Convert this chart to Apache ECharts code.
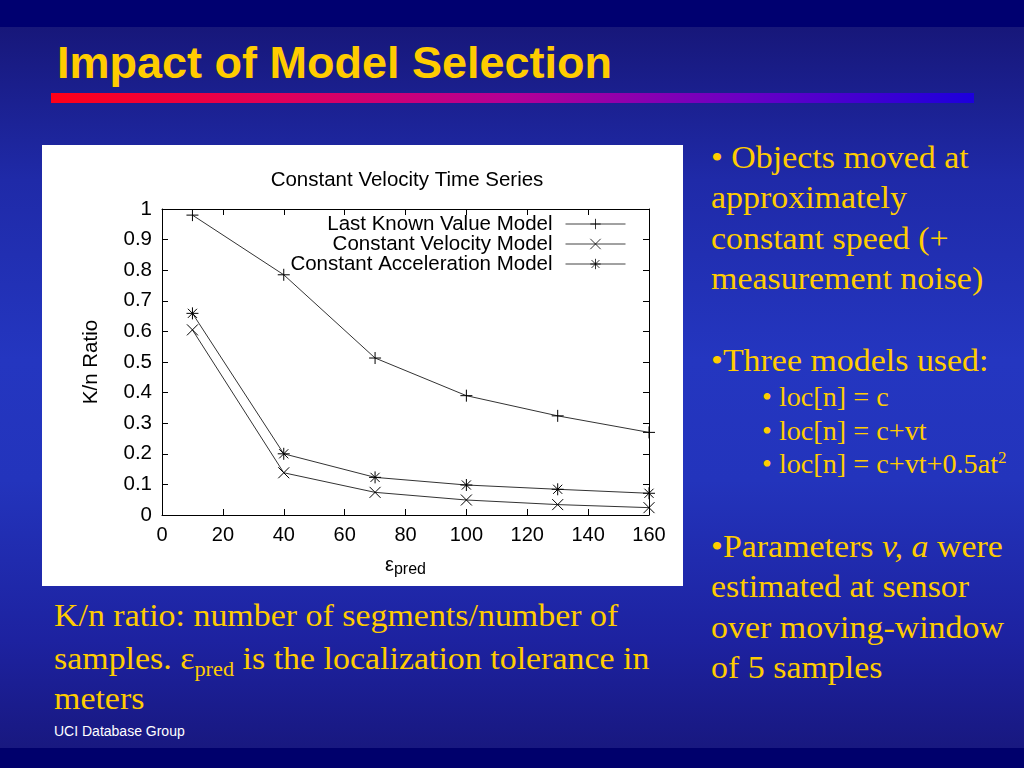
<!DOCTYPE html>
<html>
<head>
<meta charset="utf-8">
<script src="https://cdn.jsdelivr.net/npm/echarts@6/dist/echarts.min.js"></script>
<style>
  html, body { margin: 0; padding: 0; }
  body {
    width: 1024px; height: 768px; overflow: hidden; position: relative;
    background: linear-gradient(to bottom,
      #000070 0px, #000070 27px,
      #17177a 27px, #1f2aa8 180px, #2436c0 360px, #2334bc 480px, #1d22a0 640px, #181880 748px,
      #00006c 748px, #00006c 768px);
    font-family: "Liberation Serif", "Times New Roman", serif;
  }
  .abs { position: absolute; white-space: nowrap; }
  .st { transform: scaleX(1.06); transform-origin: left top; }
  #title { left: 57px; top: 40px; font-family: "Liberation Sans", Arial, sans-serif; font-weight: bold;
           font-size: 45px; line-height: 45px; color: #FFCC00; }
  #bar { left: 51px; top: 93px; width: 923px; height: 10px;
         background: linear-gradient(to right, #ff0018 0%, #e0005a 25%, #b40096 50%, #6a00c4 75%, #1c00dc 100%); }
  #chart { left: 42px; top: 145px; width: 641px; height: 441px; background: #fff; }
  .yel { color: #FFCC00; }
  .big { font-size: 32px; line-height: 40.3px; }
  .small { font-size: 26.6px; line-height: 33.5px; }
  #foot { left: 54px; top: 724px; font-family: "Liberation Sans", Arial, sans-serif; font-size: 14px; color: #fff; line-height: 14px; }
  sub { font-size: 21px; vertical-align: -7px; line-height: 0; }
</style>
</head>
<body>
<div id="title" class="abs">Impact of Model Selection</div>
<div id="bar" class="abs"></div>
<div id="chart" class="abs"></div>

<div class="abs yel big st" style="left:711px; top:137px;">• Objects moved at<br>approximately<br>constant speed (+<br>measurement noise)</div>
<div class="abs yel big st" style="left:711px; top:340px;">•Three models used:</div>
<div class="abs yel small st" style="left:762px; top:381px;">• loc[n] = c<br>• loc[n] = c+vt<br>• loc[n] = c+vt+0.5at<sup style="font-size:16px; vertical-align:10px; line-height:0;">2</sup></div>
<div class="abs yel big st" style="left:711px; top:526px;">•Parameters <i>v, a</i> were<br>estimated at sensor<br>over moving-window<br>of 5 samples</div>

<div class="abs yel big st" style="left:54px; top:595px;">K/n ratio: number of segments/number of</div>
<div class="abs yel big st" style="left:54px; top:638px;">samples. ε<sub>pred</sub> is the localization tolerance in</div>
<div class="abs yel big st" style="left:54px; top:678px;">meters</div>
<div id="foot" class="abs">UCI Database Group</div>

<script>
const chartTitle = 'Constant Velocity Time Series';
const seriesNames = ['Last Known Value Model', 'Constant Velocity Model', 'Constant Acceleration Model'];
const xValues = [10, 40, 70, 100, 130, 160];
const lastKnown = [0.98, 0.785, 0.513, 0.39, 0.324, 0.27];
const constVel = [0.605, 0.138, 0.074, 0.049, 0.034, 0.024];
const constAcc = [0.659, 0.2, 0.123, 0.098, 0.084, 0.071];
const xTicks = { min: 0, max: 160, interval: 20 };
const yTicks = { min: 0, max: 1, interval: 0.1 };

const FONT = 'Liberation Sans';
const SYM_PLUS = 'path://M5 0L5 10M0 5L10 5';
const SYM_CROSS = 'path://M0 0L10 10M10 0L0 10';
const SYM_STAR = 'path://M5 0L5 10M0 5L10 5M1.2 1.2L8.8 8.8M8.8 1.2L1.2 8.8';

const chart = echarts.init(document.getElementById('chart'));

function axisCommon() {
  return {
    type: 'value',
    axisLine: { show: true, onZero: false, lineStyle: { color: '#000', width: 1 } },
    axisTick: { show: true, inside: true, length: 6, lineStyle: { color: '#000', width: 1 } },
    splitLine: { show: false }
  };
}

function mkSeries(name, vals, sym, size) {
  return {
    name: name,
    type: 'line',
    xAxisIndex: 0, yAxisIndex: 0,
    data: xValues.map((x, i) => [x, vals[i]]),
    symbol: sym,
    symbolSize: size,
    showAllSymbol: true,
    lineStyle: { color: '#333', width: 1 },
    itemStyle: { color: '#000', borderColor: '#000', borderWidth: 1 },
    emphasis: { disabled: true },
    z: 3
  };
}

const option = {
  backgroundColor: '#fff',
  animation: false,
  title: {
    text: chartTitle,
    left: 360, top: 20, textAlign: 'center',
    textStyle: { fontFamily: FONT, fontSize: 20.5, fontWeight: 'normal', color: '#000' }
  },
  grid: { left: 120, right: 34, top: 64, bottom: 71 },
  legend: {
    data: seriesNames,
    orient: 'vertical',
    right: 52, top: 63.5,
    align: 'right',
    itemWidth: 60, itemHeight: 13,
    itemGap: -1,
    selectedMode: false,
    itemStyle: { borderWidth: 0.8 },
    lineStyle: { width: 1, color: '#444' },
    textStyle: { fontFamily: FONT, fontSize: 20.5, color: '#000', padding: [0, 8, 0, 0], lineHeight: 19 }
  },
  xAxis: [
    Object.assign(axisCommon(), {
      position: 'bottom', min: xTicks.min, max: xTicks.max, interval: xTicks.interval,
      axisLabel: { fontFamily: FONT, fontSize: 20, color: '#000', margin: 10 },
      name: '{e|ε}{s|pred}',
      nameLocation: 'middle', nameGap: 38,
      nameTextStyle: {
        rich: {
          e: { fontFamily: FONT, fontSize: 20, color: '#000' },
          s: { fontFamily: FONT, fontSize: 16, color: '#000', padding: [9, 0, 0, 0] }
        }
      }
    }),
    Object.assign(axisCommon(), {
      position: 'top', min: xTicks.min, max: xTicks.max, interval: xTicks.interval,
      axisLabel: { show: false }
    })
  ],
  yAxis: [
    Object.assign(axisCommon(), {
      position: 'left', min: yTicks.min, max: yTicks.max, interval: yTicks.interval,
      axisLabel: { fontFamily: FONT, fontSize: 20.5, color: '#000', margin: 10 },
      name: 'K/n Ratio', nameLocation: 'middle', nameRotate: 90, nameGap: 60,
      nameTextStyle: { fontFamily: FONT, fontSize: 20.5, color: '#000' }
    }),
    Object.assign(axisCommon(), {
      position: 'right', min: yTicks.min, max: yTicks.max, interval: yTicks.interval,
      axisLabel: { show: false }
    })
  ],
  series: [
    mkSeries(seriesNames[0], lastKnown, SYM_PLUS, 12),
    mkSeries(seriesNames[1], constVel, SYM_CROSS, 11),
    mkSeries(seriesNames[2], constAcc, SYM_STAR, 12)
  ]
};
chart.setOption(option);
</script>
</body>
</html>
